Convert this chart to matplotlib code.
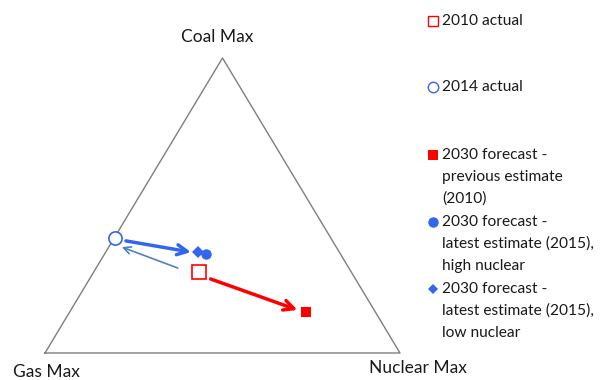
import numpy as np
import matplotlib
matplotlib.use("Agg")
import matplotlib.pyplot as plt
from matplotlib.patches import FancyArrowPatch

plt.rcParams['font.family'] = ['Lato', 'DejaVu Sans']

# ternary data: (coal, nuclear) fractions; gas = 1 - coal - nuclear
corner_labels = ["Coal Max", "Gas Max", "Nuclear Max"]
series_names = ["2010 actual", "2014 actual",
                "2030 forecast -\nprevious estimate\n(2010)",
                "2030 forecast -\nlatest estimate (2015),\nhigh nuclear",
                "2030 forecast -\nlatest estimate (2015),\nlow nuclear"]
coal = [0.275, 0.39, 0.139, 0.336, 0.342]
nuclear = [0.295, 0.002, 0.667, 0.285, 0.26]

# arrows: (coal_start, nuclear_start, coal_end, nuclear_end)
arrow_thick_blue = (0.38, 0.038, 0.342, 0.24)
arrow_thin_blue = (0.288, 0.23, 0.359, 0.037)
arrow_red = (0.251, 0.341, 0.146, 0.638)

H = np.sqrt(3) / 2

def to_xy(c, n):
    return n + 0.5 * c, c * H

W, Hpx = 603, 380
fig = plt.figure(figsize=(W / 100, Hpx / 100), dpi=100)
ax = fig.add_axes([45 / W, (380 - 353) / Hpx, 355 / W, 295 / Hpx])
ax.set_xlim(0, 1)
ax.set_ylim(0, H)
ax.axis('off')

# triangle
tri = np.array([[0, 0], [1, 0], [0.5, H], [0, 0]])
ax.plot(tri[:, 0], tri[:, 1], color='#7f7f7f', lw=1.0, clip_on=False)

red = '#ff0000'
blue = '#3366ee'
thin_blue = '#4f81bd'

def arrow(a, color, lw, ms):
    x0, y0 = to_xy(a[0], a[1])
    x1, y1 = to_xy(a[2], a[3])
    p = FancyArrowPatch((x0, y0), (x1, y1), arrowstyle='->', mutation_scale=ms,
                        color=color, lw=lw, shrinkA=0, shrinkB=0, clip_on=False)
    ax.add_patch(p)

arrow(arrow_thick_blue, blue, 2.5, 18)
arrow(arrow_thin_blue, thin_blue, 1.2, 13)
arrow(arrow_red, red, 2.5, 18)

styles = [
    dict(marker='s', ms=9.5, mfc='white', mec=red, mew=1.2),
    dict(marker='o', ms=9.5, mfc='white', mec=blue, mew=1.2),
    dict(marker='s', ms=7, mfc=red, mec=red, mew=0),
    dict(marker='o', ms=7.5, mfc=blue, mec=blue, mew=0),
    dict(marker='D', ms=6.5, mfc=blue, mec=blue, mew=0),
]
for i in [0, 1, 2, 4, 3]:
    x, y = to_xy(coal[i], nuclear[i])
    ax.plot([x], [y], ls='none', clip_on=False, zorder=5, **styles[i])

# overlay axes in pixel coordinates for labels and legend
lax = fig.add_axes([0, 0, 1, 1])
lax.set_xlim(0, W)
lax.set_ylim(Hpx, 0)
lax.axis('off')
lax.patch.set_alpha(0)

fs = 12.5
tc = '#1a1a1a'
lax.text(217, 37, corner_labels[0], ha='center', va='center', fontsize=fs, color=tc)
lax.text(46, 372, corner_labels[1], ha='center', va='center', fontsize=fs, color=tc)
lax.text(418, 368, corner_labels[2], ha='center', va='center', fontsize=fs, color=tc)

# legend
leg_y = [21, 87, 155, 222, 289]
line_gap = 22
leg_styles = [
    dict(marker='s', ms=7, mfc='white', mec=red, mew=1.0),
    dict(marker='o', ms=7.5, mfc='white', mec=blue, mew=1.0),
    dict(marker='s', ms=6.5, mfc=red, mec=red, mew=0),
    dict(marker='o', ms=7.5, mfc=blue, mec=blue, mew=0),
    dict(marker='D', ms=5, mfc=blue, mec=blue, mew=0),
]
for i, (name, y) in enumerate(zip(series_names, leg_y)):
    lax.plot([433], [y], ls='none', **leg_styles[i])
    for k, line in enumerate(name.split('\n')):
        lax.text(442, y + k * line_gap, line, ha='left', va='center',
                 fontsize=11.2, color=tc)

fig.savefig('out.png', dpi=100)
